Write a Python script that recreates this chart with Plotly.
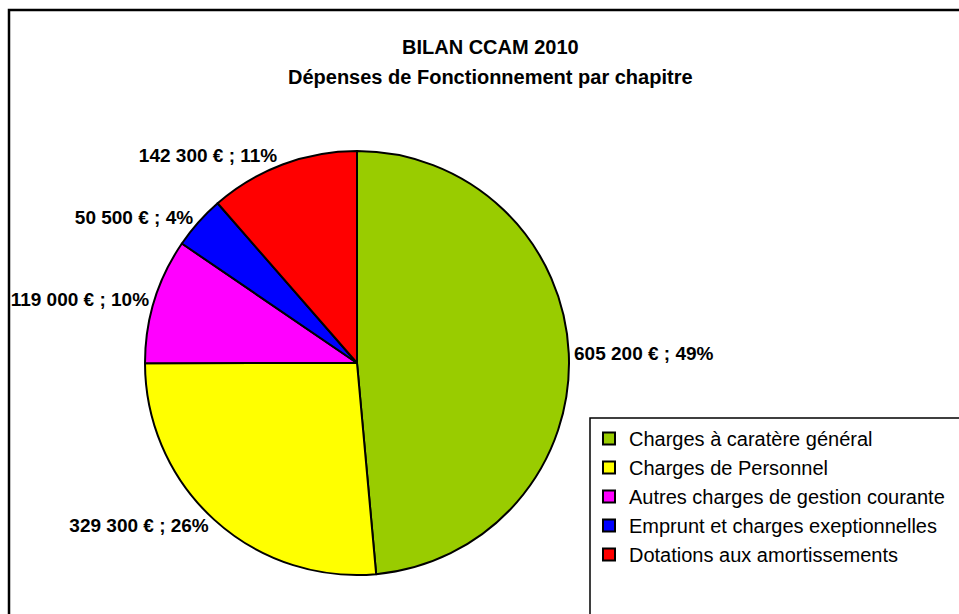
import plotly.graph_objects as go

categories = [
    "Charges à caratère général",
    "Charges de Personnel",
    "Autres charges de gestion courante",
    "Emprunt et charges exeptionnelles",
    "Dotations aux amortissements",
]
values = [605200, 329300, 119000, 50500, 142300]
colors = ["#99CC00", "#FFFF00", "#FF00FF", "#0000FF", "#FF0000"]
title_lines = ["BILAN CCAM 2010", "Dépenses de Fonctionnement par chapitre"]

W, H = 959, 614


def px(x):
    return x / W


def py(y):
    return 1 - y / H


cx, cy, r = 357, 363, 212
FONT = "Liberation Sans, Arial, sans-serif"

fig = go.Figure(go.Pie(
    labels=categories,
    values=values,
    sort=False,
    direction="clockwise",
    rotation=0,
    marker=dict(colors=colors, line=dict(color="black", width=2)),
    textposition="outside",
    texttemplate="%{value:,.0f} € ; %{percent:.0%}",
    textfont=dict(family=FONT, size=19, color="black", weight="bold"),
    hoverinfo="label+value+percent",
    domain=dict(x=[px(cx - r), px(cx + r)], y=[py(cy + r), py(cy - r)]),
))

annotations = []
for i, line in enumerate(title_lines):
    annotations.append(dict(
        text=line, x=px(490), y=py(47 + 30 * i), xref="paper", yref="paper",
        xanchor="center", yanchor="middle", showarrow=False,
        font=dict(family=FONT, size=20, color="black", weight="bold"),
    ))

fig.update_layout(
    width=W, height=H,
    margin=dict(l=0, r=0, t=0, b=0, autoexpand=False),
    paper_bgcolor="white",
    plot_bgcolor="white",
    separators=", ",
    annotations=annotations,
    showlegend=True,
    legend=dict(
        x=px(589), y=py(419), xanchor="left", yanchor="top",
        font=dict(family=FONT, size=20, color="black"),
        bgcolor="rgba(0,0,0,0)", borderwidth=0,
    ),
    shapes=[
        dict(type="rect", xref="paper", yref="paper",
             x0=px(9), x1=1.05, y0=-0.05, y1=py(10),
             line=dict(color="black", width=2.5), fillcolor="rgba(0,0,0,0)", layer="below"),
        dict(type="rect", xref="paper", yref="paper",
             x0=px(590), x1=1.05, y0=-0.05, y1=py(418),
             line=dict(color="black", width=1.5), fillcolor="rgba(0,0,0,0)", layer="below"),
    ],
)

fig.write_html(
    "out.html",
    config={"displayModeBar": False},
    post_script="document.body.style.margin='0';document.body.style.overflow='hidden';"
                "document.documentElement.style.overflow='hidden';",
)
